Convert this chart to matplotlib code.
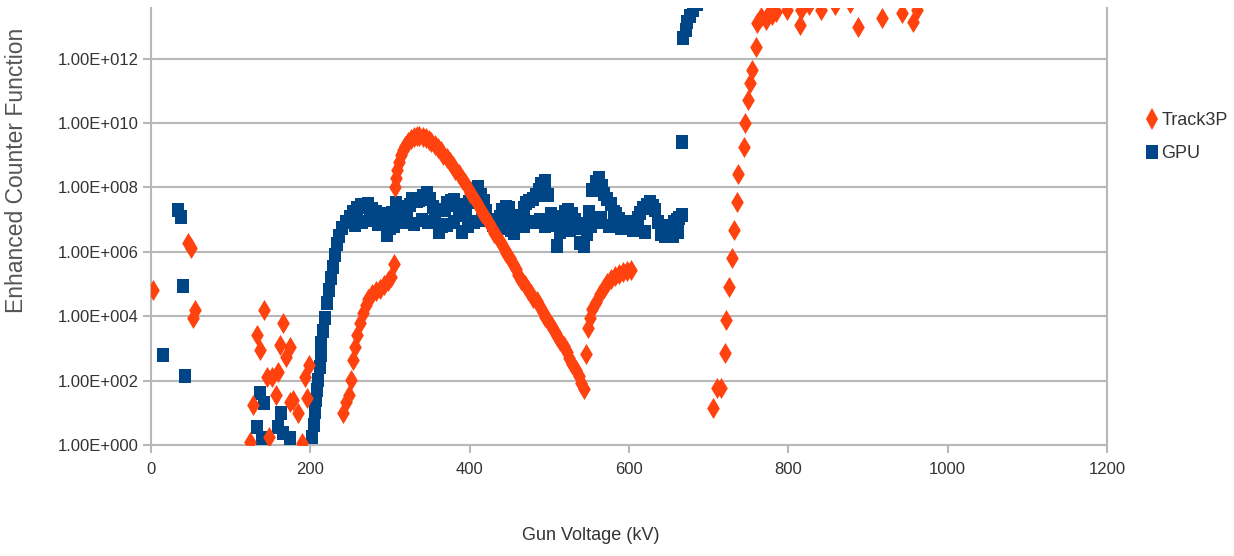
import numpy as np
import matplotlib
matplotlib.use("Agg")
import matplotlib.pyplot as plt
from matplotlib.ticker import FuncFormatter, FixedLocator
from matplotlib.lines import Line2D

# ---------------- data ----------------
track3p_kv = [
    2, 46, 50, 55, 53,
    124, 128, 133, 137, 142, 146, 152, 148, 157, 159, 162, 166, 169, 174, 174, 178, 184, 189, 193, 198, 196,
    241, 245, 248, 251, 253, 256, 258, 262, 266, 270, 273, 277, 282, 287, 292, 297, 301, 305,
    306, 307, 309, 311, 314, 316, 319, 322, 326, 330, 334, 337, 341, 345, 349, 352, 356, 360, 364, 367,
    371, 375, 379, 382, 386, 390, 394, 398, 401, 405, 409, 413, 416, 420, 424, 428, 431, 435, 439, 443,
    446, 450, 454, 458, 461, 465, 469, 473, 477, 480, 484, 488, 492, 495, 499, 503, 507, 510, 514, 518,
    522, 525, 529, 533, 537, 540, 543,
    546, 548, 551, 554, 558, 563, 568, 573, 578, 583, 588, 593, 598, 603,
    705, 711, 716, 720, 722, 725, 729, 732, 735, 737, 744, 746, 749, 752, 755, 759, 761, 766, 772, 776,
    780, 785, 798, 815, 816, 826, 841, 859, 877, 887, 917, 943, 956, 962,
]
track3p_val = [
    6.5e4, 1.9e6, 1.3e6, 1.6e4, 8.7e3,
    1.2, 17, 2.6e3, 890, 1.6e4, 130, 130, 1.8, 35, 185, 1.3e3, 6.2e3, 540, 1.1e3, 22, 25, 9.8, 1.15, 130, 300, 29,
    9.8, 22, 35, 105, 440, 1.1e3, 2.6e3, 6.2e3, 1.26e4, 2.2e4, 3.4e4, 4.9e4, 6.0e4, 6.9e4, 9.3e4, 1.2e5, 1.7e5, 4.2e5,
    1.0e8, 1.95e8, 3.5e8, 6.2e8, 1.0e9, 1.45e9, 1.95e9, 2.6e9, 3.2e9, 3.7e9, 4.0e9, 4.0e9, 3.7e9, 3.4e9, 3.0e9,
    2.6e9, 2.1e9, 1.66e9, 1.35e9, 1.0e9,
    8.1e8, 6.2e8, 4.6e8, 3.5e8, 2.6e8, 1.8e8, 1.4e8, 9.5e7, 6.8e7, 4.7e7, 3.3e7, 2.3e7, 1.6e7, 1.1e7, 7.8e6,
    5.5e6, 3.8e6, 2.7e6, 1.9e6, 1.3e6,
    9.1e5, 6.4e5, 4.2e5, 2.9e5, 1.9e5, 1.3e5, 9.3e4, 6.5e4, 4.9e4, 3.7e4, 3.0e4, 1.9e4, 1.35e4, 9.5e3, 6.6e3,
    4.6e3, 3.2e3, 2.4e3, 1.7e3, 1.2e3,
    780, 500, 330, 210, 140, 85, 55,
    670, 4.3e3, 8.7e3, 1.66e4, 2.8e4, 4.9e4, 7.6e4, 1.07e5, 1.45e5, 1.8e5, 2.0e5, 2.3e5, 2.5e5, 2.7e5,
    14, 59, 59, 720, 7.6e3, 8.1e4, 6.4e5, 4.8e6, 3.5e7, 2.6e8, 1.8e9, 1.0e10, 5.1e10, 1.7e11, 4.5e11,
    2.3e12, 1.3e13, 1.95e13, 1.6e13, 2.6e13,
    2.2e13, 2.8e13, 3.2e13, 1.1e13, 3.2e13, 4.6e13, 3.2e13, 4.6e13, 5.4e13, 9.5e12, 1.8e13, 2.6e13, 1.4e13, 3.2e13,
]

gpu_kv = [
    15, 34, 38, 40, 43,
    133, 137, 139, 142, 160, 163, 166, 174, 202,
    204, 206, 207, 208, 209, 212, 213, 214, 216, 218, 221, 223, 226, 228, 231, 233, 236, 240, 245, 250,
    253, 258, 263, 268, 273, 278, 283, 288, 292, 296, 300, 303, 308, 312, 316, 321, 325, 328, 334, 337,
    342, 346, 350, 354, 357, 361, 365, 369, 372, 376, 380, 384, 387, 391, 395, 399, 402, 406, 410, 414,
    418, 421, 425, 429, 434, 438, 441, 445, 449, 453, 456, 460, 464, 468, 471, 475, 479, 483, 487, 490,
    494, 498, 502, 505, 509, 513, 517, 520, 524, 528, 532, 535, 539, 543, 547, 550, 554, 558, 562, 566,
    569, 573, 577, 581, 584, 588, 592, 596, 599, 603, 607, 611, 614, 618, 622, 626, 630, 633, 637, 641,
    645, 648, 652, 656, 660, 663, 666,
    256, 265, 275, 285, 305, 318, 330, 340, 348, 372, 380, 398, 405, 415, 440, 452, 468, 480, 488, 495,
    520, 526, 540, 552, 560, 565, 575, 590, 605, 620, 640, 655, 662,
    666,
    668, 671, 673, 676, 680, 685,
]
gpu_val = [
    630, 2.0e7, 1.2e7, 8.7e4, 140,
    3.6, 41, 1.66, 20, 3.6, 9.8, 2.3, 1.66, 1.8,
    4.2, 10.5, 25, 51, 105, 265, 630, 1.5e3, 3.5e3, 8.7e3, 2.6e4, 6.5e4, 1.55e5, 3.4e5, 7.9e5, 1.7e6,
    3.1e6, 5.5e6, 8.5e6, 1.2e7,
    1.7e7, 2.3e7, 2.8e7, 2.5e7, 3.0e7, 2.1e7, 1.7e7, 1.5e7, 8.5e6, 3.3e6, 5.5e6, 1.6e7, 3.3e7, 2.1e7,
    2.5e7, 1.3e7, 2.8e7, 4.4e7, 3.8e7, 4.1e7,
    5.4e7, 6.8e7, 4.4e7, 2.5e7, 9.8e6, 4.1e6, 6.3e6, 2.0e7, 3.3e7, 3.8e7, 4.1e7, 2.8e7, 2.1e7, 4.1e6,
    1.4e7, 3.5e7, 6.3e7, 8.9e7, 1.0e8, 5.8e7,
    3.8e7, 1.8e7, 9.8e6, 6.8e6, 5.9e6, 1.2e7, 2.0e7, 2.5e7, 2.3e7, 8.5e6, 3.8e6, 7.2e6, 1.3e7, 2.3e7,
    3.3e7, 3.8e7, 4.4e7, 5.8e7, 8.3e7, 1.3e8,
    1.6e8, 5.8e7, 1.5e7, 6.8e6, 1.5e6, 4.1e6, 1.2e7, 1.7e7, 2.0e7, 1.5e7, 9.8e6, 5.5e6, 1.9e6, 1.5e6,
    3.5e6, 1.7e7, 8.3e7, 1.5e8, 1.95e8, 1.1e8,
    6.3e7, 4.4e7, 3.0e7, 1.7e7, 1.5e7, 1.05e7, 8.5e6, 6.3e6, 6.3e6, 7.2e6, 8.5e6, 1.1e7, 1.6e7, 2.3e7,
    2.8e7, 3.5e7, 2.6e7, 2.0e7, 8.5e6, 4.1e6,
    3.1e6, 4.8e6, 6.3e6, 8.5e6, 9.8e6, 1.1e7, 1.4e7,
    6.8e6, 8.5e6, 9.8e6, 7.2e6, 6.3e6, 8.5e6, 7.2e6, 9.8e6, 8.5e6, 6.8e6, 8.5e6, 6.3e6, 8.5e6, 9.8e6,
    5.5e6, 4.8e6, 6.3e6, 8.5e6, 9.8e6, 6.3e6,
    5.5e6, 4.8e6, 7.2e6, 6.3e6, 8.5e6, 1.1e7, 6.3e6, 5.5e6, 4.8e6, 4.1e6, 3.5e6, 3.1e6, 4.1e6,
    2.6e9,
    4.4e12, 7.8e12, 1.4e13, 2.1e13, 3.2e13, 5.0e13,
]

x_ticks = [0, 200, 400, 600, 800, 1000, 1200]
y_ticks = [1e0, 1e2, 1e4, 1e6, 1e8, 1e10, 1e12]
series_names = ["Track3P", "GPU"]
x_label = "Gun Voltage (kV)"
y_label = "Enhanced Counter Function"

# ---------------- style ----------------
BLUE = "#004586"
ORANGE = "#FF420E"
GRID = "#b8b8b8"
narrow = ["Liberation Sans Narrow", "DejaVu Sans Condensed", "Liberation Sans", "DejaVu Sans"]
regular = ["Liberation Sans", "DejaVu Sans"]
RECT = [(-0.42, -0.5), (0.42, -0.5), (0.42, 0.5), (-0.42, 0.5), (-0.42, -0.5)]

W, H = 1234, 556
fig = plt.figure(figsize=(W / 100, H / 100), dpi=100)
L, R, B, T = 151, 1107, 445, 7.5
ax = fig.add_axes([L / W, 1 - B / H, (R - L) / W, (B - T) / H])

ax.set_yscale("log")
ax.set_xlim(0, 1200)
ax.set_ylim(1, 10 ** ((445 - 7.5) / 32.2))

ax.scatter(gpu_kv, gpu_val, marker=RECT, s=100, color=BLUE, linewidths=0, zorder=3)
ax.scatter(track3p_kv, track3p_val, marker="d", s=115, color=ORANGE, linewidths=0, zorder=4)

ax.yaxis.set_major_locator(FixedLocator(y_ticks))
ax.yaxis.set_minor_locator(FixedLocator([]))
ax.yaxis.set_major_formatter(FuncFormatter(lambda v, p: "1.00E+%03d" % int(round(np.log10(v)))))
ax.set_xticks(x_ticks)
ax.set_xticklabels([str(t) for t in x_ticks])

ax.grid(axis="y", color=GRID, linewidth=1.5, zorder=0)
ax.set_axisbelow(True)
for side in ["left", "bottom", "right"]:
    ax.spines[side].set_color(GRID)
    ax.spines[side].set_linewidth(1.5)
ax.spines["top"].set_visible(False)

ax.tick_params(axis="both", color=GRID, width=1.5, length=6, labelcolor="#333333")
ax.tick_params(axis="y", pad=3)
ax.tick_params(axis="x", pad=6)
for lab in ax.get_yticklabels() + ax.get_xticklabels():
    lab.set_family(narrow)
    lab.set_fontsize(12)

fig.text(17 / W, 1 - 170 / H, y_label, rotation=90, ha="center", va="center",
         fontsize=16.5, color="#555555", family=regular)
fig.text(591 / W, 1 - 536 / H, x_label, ha="center", va="center",
         fontsize=13, color="#333333", family=narrow)

handles = [
    Line2D([], [], marker="d", color=ORANGE, linestyle="none", markersize=11, markeredgewidth=0),
    Line2D([], [], marker=RECT, color=BLUE, linestyle="none", markersize=10, markeredgewidth=0),
]
leg = fig.legend(handles, series_names, loc="upper left",
                 bbox_to_anchor=(1138 / W, 1 - 103 / H), frameon=False,
                 handlelength=0.6, handletextpad=0.2, labelspacing=0.9,
                 prop={"family": narrow, "size": 13}, borderpad=0)
for t in leg.get_texts():
    t.set_color("#333333")

fig.savefig("out.png", dpi=100)
